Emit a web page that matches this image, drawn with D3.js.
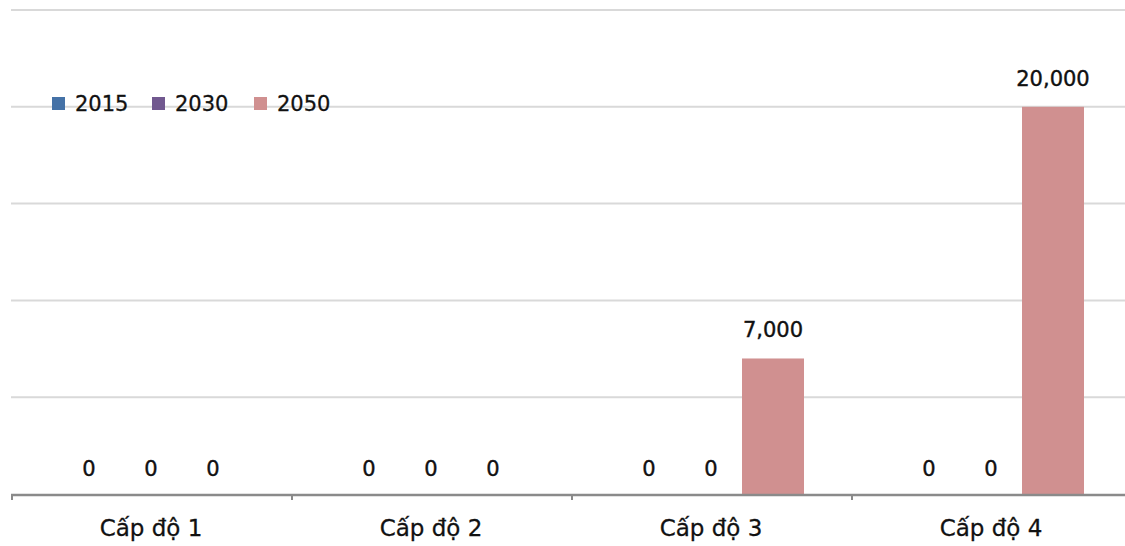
<!DOCTYPE html>
<html><head><meta charset="utf-8">
<script src="https://cdn.jsdelivr.net/npm/d3@7"></script>
<style>body{margin:0;background:#fff;}svg{display:block;}</style>
</head><body>
<svg id="c" width="1125" height="546"></svg>
<script>
const categories = ["Cấp độ 1", "Cấp độ 2", "Cấp độ 3", "Cấp độ 4"];
const seriesNames = ["2015", "2030", "2050"];
const values2015 = [0, 0, 0, 0];
const values2030 = [0, 0, 0, 0];
const values2050 = [0, 0, 7000, 20000];
const colors = ["#4572a7", "#71588f", "#d09090"];
const gridTicks = [5000, 10000, 15000, 20000, 25000];

const series = [values2015, values2030, values2050];
const font = "DejaVu Sans, sans-serif";
const ink = "#111";
const svg = d3.select("#c");

const x = d3.scaleBand().domain(categories).range([11, 1131]).padding(0);
const x1 = d3.scaleBand().domain(seriesNames).range([47, 233]).padding(0);
const y = d3.scaleLinear().domain([0, 25000]).range([494, 10]);

// gridlines
svg.append("g").selectAll("line").data(gridTicks).join("line")
  .attr("x1", 11).attr("x2", 1125)
  .attr("y1", d => y(d)).attr("y2", d => y(d))
  .attr("stroke", "#d9d9d9").attr("stroke-width", 2);

// bars
const groups = svg.append("g").selectAll("g").data(categories).join("g")
  .attr("transform", c => `translate(${x(c)},0)`);
groups.each(function(c, ci) {
  const g = d3.select(this);
  seriesNames.forEach((s, si) => {
    const v = series[si][ci];
    if (v > 0) {
      g.append("rect").attr("x", x1(s)).attr("width", x1.bandwidth())
        .attr("y", y(v)).attr("height", y(0) - y(v)).attr("fill", colors[si]);
    }
    g.append("text").attr("x", x1(s) + x1.bandwidth() / 2).attr("y", y(v) - (v > 0 ? 21 : 18))
      .attr("text-anchor", "middle").attr("font-family", font).attr("font-size", 21)
      .attr("fill", ink).attr("stroke", ink).attr("stroke-width", 0.4)
      .text(d3.format(",")(v));
  });
});

// x axis
const axis = d3.axisBottom(x).tickSize(0).tickPadding(26);
const ag = svg.append("g").attr("transform", `translate(0,${y(0)})`).call(axis);
ag.select(".domain").remove();
ag.selectAll("text").attr("font-family", font).attr("font-size", 23)
  .attr("fill", ink).attr("stroke", ink).attr("stroke-width", 0.3);
svg.append("line").attr("x1", 11).attr("x2", 1125).attr("y1", y(0) + 1).attr("y2", y(0) + 1)
  .attr("stroke", "#8a8a8a").attr("stroke-width", 2.5);
const bounds = categories.map(c => x(c)).concat([x.range()[1]]);
svg.append("g").selectAll("line").data(bounds).join("line")
  .attr("x1", d => d + 1).attr("x2", d => d + 1).attr("y1", y(0)).attr("y2", y(0) + 6)
  .attr("stroke", "#8a8a8a").attr("stroke-width", 2);

// legend
const legX = [52, 152, 254];
const leg = svg.append("g").selectAll("g").data(seriesNames).join("g")
  .attr("transform", (d, i) => `translate(${legX[i]},97)`);
leg.append("rect").attr("width", 13).attr("height", 13).attr("fill", (d, i) => colors[i]);
leg.append("text").attr("x", 23).attr("y", 14).attr("font-family", font).attr("font-size", 21)
  .attr("fill", ink).attr("stroke", ink).attr("stroke-width", 0.3).text(d => d);
</script>
</body></html>
